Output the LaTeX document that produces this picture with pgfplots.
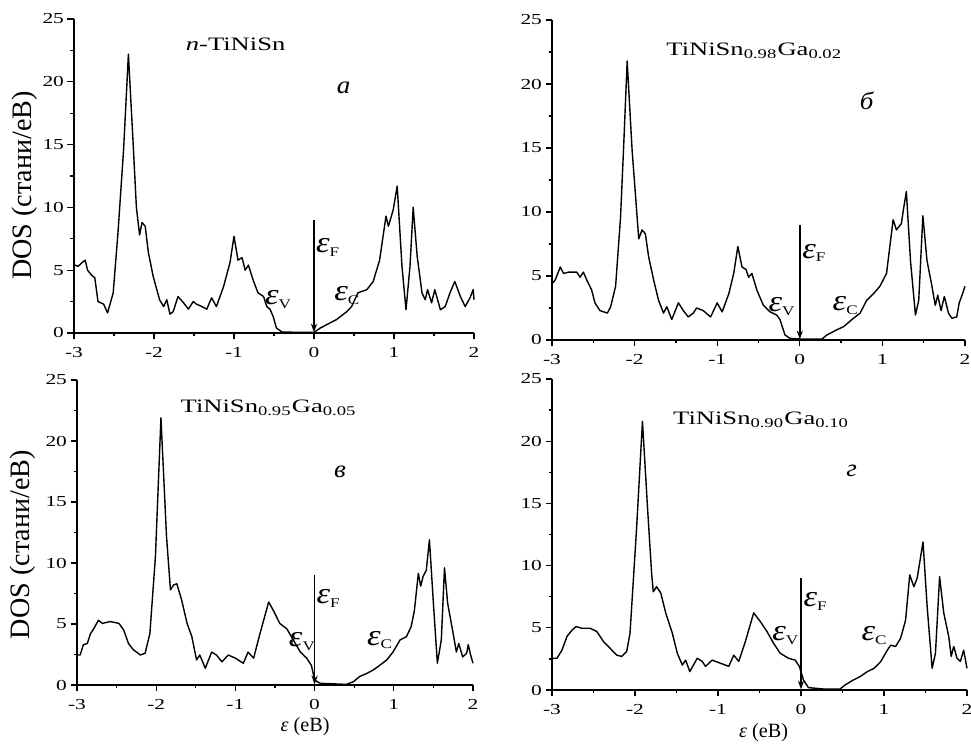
\documentclass[border=0pt]{standalone}
\usepackage{fontspec}
\setmainfont{Liberation Serif}
\usepackage{graphicx}
\usepackage{pgfplots}
\pgfplotsset{compat=1.18}
\usetikzlibrary{arrows.meta}

% the reference's lettering is wider than Times: stretch it horizontally
\newcommand{\hs}[2][1.4]{\scalebox{#1}[1]{#2}}
\newcommand{\eps}[1]{\hs[1.15]{\fontsize{17}{17}\selectfont\textit{ε}}\raisebox{-0.45ex}{\hs[1.3]{\fontsize{7.5}{8}\selectfont #1}}}
\newcommand{\ttl}[1]{\hs{\fontsize{10.8}{11}\selectfont #1}}
\newcommand{\plet}[1]{\hs[1.1]{\fontsize{14}{14}\selectfont\itshape #1}}

\pgfplotsset{
  dospanel/.style={
    scale only axis,
    xmin=-3, xmax=2, ymin=0, ymax=25,
    axis x line*=bottom, axis y line*=left,
    axis line style={-, line width=0.8pt},
    xtick={-3,-2,-1,0,1,2},
    xticklabels={\hs{-3},\hs{-2},\hs{-1},\hs{0},\hs{1},\hs{2}},
    ytick={0,5,10,15,20,25},
    yticklabels={\hs{0},\hs{5},\hs{10},\hs{15},\hs{20},\hs{25}},
    minor x tick num=1, minor y tick num=1,
    tick align=outside,
    major tick length=0.13cm, minor tick length=0.07cm,
    every tick/.style={line width=0.7pt, black},
    ticklabel style={font=\fontsize{8.7}{9}\selectfont},
    xticklabel style={yshift=-1pt},
    yticklabel style={xshift=1.5pt},
    clip=false,
  },
  dosy/.style={
    ylabel={\fontsize{16}{16}\selectfont DOS (стани/еВ)},
    ylabel style={at={(axis description cs:#1)}, anchor=center},
  },
  dosx/.style={
    xlabel={\fontsize{11.5}{12}\selectfont\textit{ε} (еВ)},
    xlabel style={at={(axis description cs:#1)}, anchor=center},
  },
  dos/.style={black, line width=0.8pt, mark=none, line join=round},
}
\newcommand{\fermi}{\draw[-{Stealth[length=5pt,width=3.5pt]}, line width=0.8pt] (axis cs:0,9) -- (axis cs:0,0.05);}

\begin{document}
\begin{tikzpicture}
\useasboundingbox (0,0) rectangle (19.42cm,14.9cm);

% а
\begin{axis}[dospanel, dosy={-0.1225,0.47}, at={(1.48cm,8.24cm)}, anchor=south west, width=8cm, height=6.28cm]
\addplot[dos] coordinates {
(-3,5.44) (-2.95,5.3) (-2.9,5.6) (-2.86,5.8) (-2.83,5.0) (-2.78,4.6) (-2.74,4.4) (-2.70,2.5)
(-2.63,2.3) (-2.58,1.6) (-2.51,3.2) (-2.45,8.0) (-2.38,14.6) (-2.32,22.2) (-2.26,15.0)
(-2.22,10.0) (-2.18,7.8) (-2.15,8.8) (-2.11,8.5) (-2.07,6.4) (-2.01,4.5) (-1.93,2.65)
(-1.88,2.1) (-1.84,2.65) (-1.80,1.5) (-1.76,1.7) (-1.70,2.9) (-1.63,2.4) (-1.57,1.9)
(-1.51,2.5) (-1.47,2.3) (-1.40,2.1) (-1.34,1.9) (-1.28,2.8) (-1.22,2.1) (-1.13,3.7)
(-1.05,5.6) (-1.0,7.7) (-0.95,5.8) (-0.90,6.0) (-0.86,5.0) (-0.82,5.4) (-0.76,4.2)
(-0.70,3.2) (-0.63,2.9) (-0.59,2.1) (-0.55,1.9) (-0.51,1.3) (-0.47,0.4) (-0.40,0.08)
(-0.18,0.05) (0,0.05) (0.08,0.4) (0.2,0.8) (0.28,1.06) (0.41,1.7) (0.47,2.1) (0.55,3.2)
(0.66,3.45) (0.74,4.1) (0.82,5.8) (0.9,9.3) (0.93,8.5) (0.99,9.8) (1.04,11.7) (1.10,5.3)
(1.15,1.85) (1.2,5.3) (1.24,10.0) (1.29,6.1) (1.35,3.2) (1.39,2.65) (1.42,3.45) (1.47,2.4)
(1.51,3.45) (1.58,1.85) (1.64,2.1) (1.70,3.2) (1.76,4.1) (1.83,2.9) (1.89,2.1) (1.95,2.8)
(1.99,3.45) (2.0,2.65)
};
\fermi
\node at (axis cs:-0.98,23) {\ttl{\textit{n}-TiNiSn}};
\node at (axis cs:0.37,19.5) {\plet{а}};
\node at (axis cs:0.17,6.8) {\eps{F}};
\node at (axis cs:-0.45,2.65) {\eps{V}};
\node at (axis cs:0.41,3.0) {\eps{C}};
\end{axis}

% б
\begin{axis}[dospanel, at={(11.04cm,8.1cm)}, anchor=south west, width=8.26cm, height=6.4cm]
\addplot[dos] coordinates {
(-3,4.4) (-2.96,4.7) (-2.90,5.7) (-2.86,5.2) (-2.80,5.3) (-2.70,5.3) (-2.66,4.9) (-2.62,5.3)
(-2.58,4.7) (-2.52,3.9) (-2.48,2.9) (-2.42,2.3) (-2.33,2.1) (-2.29,2.6) (-2.23,4.2)
(-2.17,9.6) (-2.13,15.5) (-2.09,21.8) (-2.03,14.8) (-1.99,11.4) (-1.95,7.9) (-1.91,8.6)
(-1.87,8.3) (-1.83,6.5) (-1.77,4.7) (-1.71,3.1) (-1.65,2.1) (-1.61,2.6) (-1.55,1.6)
(-1.47,2.9) (-1.41,2.3) (-1.35,1.8) (-1.29,2.1) (-1.25,2.5) (-1.17,2.3) (-1.08,1.8)
(-1.0,2.9) (-0.94,2.2) (-0.86,3.6) (-0.80,5.2) (-0.75,7.3) (-0.70,5.7) (-0.65,5.5)
(-0.62,4.9) (-0.58,5.2) (-0.52,3.9) (-0.44,2.7) (-0.36,2.2) (-0.28,1.95) (-0.24,1.6)
(-0.18,0.4) (-0.12,0.13) (0,0.08) (0.27,0.08) (0.33,0.4) (0.45,0.8) (0.53,1.04) (0.65,1.7)
(0.73,2.1) (0.81,3.1) (0.89,3.6) (0.97,4.2) (1.05,5.2) (1.13,9.4) (1.17,8.6) (1.23,9.1)
(1.25,10.0) (1.29,11.6) (1.34,6.2) (1.40,1.95) (1.44,3.1) (1.49,9.7) (1.54,6.2) (1.60,4.2)
(1.64,2.7) (1.67,3.5) (1.71,2.3) (1.75,3.4) (1.80,2.1) (1.84,1.7) (1.90,1.8) (1.93,2.9)
(1.97,3.6) (2.0,4.2)
};
\fermi
\node at (axis cs:-0.55,22.6) {\ttl{TiNiSn\textsubscript{0.98}Ga\textsubscript{0.02}}};
\node at (axis cs:0.81,18.7) {\plet{б}};
\node at (axis cs:0.17,6.8) {\eps{F}};
\node at (axis cs:-0.22,2.6) {\eps{V}};
\node at (axis cs:0.55,2.7) {\eps{C}};
\end{axis}

% в
\begin{axis}[dospanel, dosy={-0.136,0.46}, dosx={0.576,-0.138}, at={(1.54cm,1.2cm)}, anchor=south west, width=7.92cm, height=6.1cm]
\addplot[dos] coordinates {
(-3,2.46) (-2.96,2.46) (-2.92,3.3) (-2.87,3.4) (-2.83,4.2) (-2.79,4.6) (-2.73,5.3)
(-2.68,5.05) (-2.58,5.2) (-2.47,5.05) (-2.41,4.5) (-2.35,3.4) (-2.29,2.9) (-2.20,2.46)
(-2.14,2.6) (-2.08,4.2) (-2.01,10.5) (-1.94,21.9) (-1.87,12.2) (-1.82,7.8) (-1.78,8.2)
(-1.74,8.3) (-1.68,7.0) (-1.61,5.05) (-1.55,3.96) (-1.49,2.05) (-1.45,2.46) (-1.38,1.37)
(-1.30,2.7) (-1.24,2.46) (-1.17,1.9) (-1.09,2.46) (-1.0,2.2) (-0.90,1.78) (-0.84,2.7)
(-0.77,2.2) (-0.69,4.2) (-0.58,6.8) (-0.52,6.1) (-0.44,5.05) (-0.35,4.6) (-0.27,3.7)
(-0.18,2.7) (-0.10,2.2) (-0.04,1.6) (0,0.4) (0.07,0.14) (0.40,0.05) (0.49,0.27) (0.57,0.7)
(0.66,0.95) (0.74,1.23) (0.82,1.6) (0.91,2.05) (0.99,2.7) (1.08,3.7) (1.16,3.96) (1.22,4.8)
(1.26,6.1) (1.31,9.15) (1.34,8.1) (1.37,8.9) (1.41,9.4) (1.45,11.9) (1.50,6.7) (1.55,1.78)
(1.60,3.7) (1.64,9.6) (1.68,6.7) (1.75,4.2) (1.79,2.7) (1.82,3.4) (1.87,2.3) (1.92,2.6)
(1.94,3.3) (1.97,2.46) (2.0,1.78)
};
\fermi
\node at (axis cs:-0.58,22.7) {\ttl{TiNiSn\textsubscript{0.95}Ga\textsubscript{0.05}}};
\node at (axis cs:0.32,17.5) {\plet{в}};
\node at (axis cs:0.17,7.1) {\eps{F}};
\node at (axis cs:-0.16,3.55) {\eps{V}};
\node at (axis cs:0.82,3.7) {\eps{C}};
\end{axis}

% г
\begin{axis}[dospanel, dosx={0.51,-0.138}, at={(11.04cm,1.1cm)}, anchor=south west, width=8.3cm, height=6.22cm]
\addplot[dos] coordinates {
(-3,2.55) (-2.94,2.55) (-2.88,3.2) (-2.82,4.3) (-2.76,4.8) (-2.71,5.1) (-2.64,4.96)
(-2.54,4.96) (-2.46,4.7) (-2.38,3.9) (-2.30,3.35) (-2.22,2.8) (-2.16,2.7) (-2.10,3.1)
(-2.06,4.56) (-1.98,13.1) (-1.91,21.6) (-1.85,14.75) (-1.80,9.4) (-1.78,7.9) (-1.74,8.3)
(-1.69,7.8) (-1.63,6.2) (-1.55,4.56) (-1.49,2.95) (-1.43,2.0) (-1.39,2.4) (-1.34,1.48)
(-1.25,2.55) (-1.19,2.3) (-1.15,1.9) (-1.07,2.4) (-0.97,2.15) (-0.87,1.9) (-0.81,2.8)
(-0.75,2.3) (-0.67,3.9) (-0.57,6.2) (-0.49,5.5) (-0.41,4.7) (-0.33,3.75) (-0.25,2.95)
(-0.15,2.55) (-0.07,2.4) (-0.02,1.9) (0.03,0.8) (0.09,0.19) (0.27,0.08) (0.47,0.08)
(0.53,0.4) (0.63,0.8) (0.71,1.07) (0.80,1.48) (0.88,1.74) (0.96,2.28) (1.04,3.2) (1.08,3.6)
(1.14,3.5) (1.20,4.16) (1.26,5.6) (1.31,9.25) (1.36,8.3) (1.40,9.0) (1.47,11.9) (1.52,6.7)
(1.58,1.74) (1.62,2.95) (1.67,9.1) (1.72,6.2) (1.78,4.3) (1.81,2.7) (1.84,3.5) (1.88,2.55)
(1.92,2.3) (1.96,3.2) (2.0,1.74)
};
\fermi
\node at (axis cs:-0.48,21.7) {\ttl{TiNiSn\textsubscript{0.90}Ga\textsubscript{0.10}}};
\node at (axis cs:0.61,17.6) {\plet{г}};
\node at (axis cs:0.17,7.1) {\eps{F}};
\node at (axis cs:-0.19,4.4) {\eps{V}};
\node at (axis cs:0.88,4.4) {\eps{C}};
\end{axis}
\end{tikzpicture}
\end{document}
